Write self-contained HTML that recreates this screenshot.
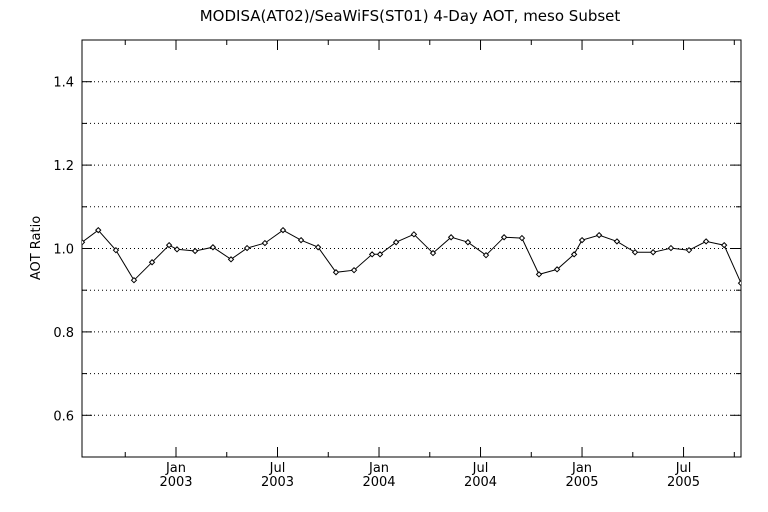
<!DOCTYPE html>
<html><head><meta charset="utf-8"><style>
html,body{margin:0;padding:0;background:#fff;}
svg{display:block;font-family:"DejaVu Sans","Liberation Sans",sans-serif;}
</style></head><body>
<svg id="chart" width="768" height="512" viewBox="0 0 768 512">
<defs><clipPath id="plotclip"><rect x="82" y="40" width="659" height="417"/></clipPath></defs>
<text x="410" y="21" font-size="15" text-anchor="middle" fill="#000">MODISA(AT02)/SeaWiFS(ST01) 4-Day AOT, meso Subset</text>
<text transform="translate(40,248) rotate(-90)" font-size="13" text-anchor="middle" fill="#000">AOT Ratio</text>
<g id="grid"></g>
<g id="axes"></g>
<g id="series" clip-path="url(#plotclip)"></g>
</svg>
<script>
const dates = [2002.537,2002.617,2002.704,2002.793,2002.882,2002.966,2003.005,2003.094,2003.182,2003.271,2003.350,2003.438,2003.527,2003.616,2003.700,2003.788,2003.877,2003.966,2004.005,2004.084,2004.172,2004.266,2004.355,2004.438,2004.527,2004.616,2004.704,2004.788,2004.877,2004.961,2005.000,2005.084,2005.172,2005.261,2005.350,2005.438,2005.527,2005.611,2005.700,2005.783];
const ratios = [1.015,1.044,0.996,0.924,0.967,1.008,0.998,0.994,1.003,0.974,1.001,1.013,1.044,1.020,1.003,0.943,0.948,0.986,0.986,1.015,1.034,0.989,1.027,1.015,0.984,1.027,1.025,0.938,0.950,0.986,1.020,1.032,1.017,0.991,0.991,1.001,0.996,1.017,1.008,0.917];
const yTickLabels = ["0.6","0.8","1.0","1.2","1.4"];
const xTickLabels = [["Jan","2003"],["Jul","2003"],["Jan","2004"],["Jul","2004"],["Jan","2005"],["Jul","2005"]];
const xTickDates = [2003.0,2003.5,2004.0,2004.5,2005.0,2005.5];

const L=82,R=741,T=40,B=457;
const X0=2002.537,X1=2005.783,Y0=0.5,Y1=1.5;
const sx=t=>L+(t-X0)/(X1-X0)*(R-L);
const sy=v=>B-(v-Y0)/(Y1-Y0)*(B-T);
const NS="http://www.w3.org/2000/svg";
function mk(tag,attrs,parent){const e=document.createElementNS(NS,tag);for(const k in attrs)e.setAttribute(k,attrs[k]);parent.appendChild(e);return e;}
const grid=document.getElementById('grid'),axes=document.getElementById('axes'),series=document.getElementById('series');

for(let i=1;i<10;i++){
  const v=Y0+i*0.1,y=sy(v);
  const g=mk('line',{x1:L,x2:R,y1:y,y2:y,stroke:'#000','stroke-width':1,'stroke-dasharray':'1 3'},grid);
  
  
}
const frame=mk('rect',{x:L,y:T,width:R-L,height:B-T,fill:'none',stroke:'#000','stroke-width':1},axes);


for(let i=0;i<=10;i++){
  const v=Y0+i*0.1,y=sy(v),major=(i%2==1),len=major?10:5;
  mk('line',{x1:L,x2:L+len,y1:y,y2:y,stroke:'#000'},axes);
  mk('line',{x1:R,x2:R-len,y1:y,y2:y,stroke:'#000'},axes);
}
yTickLabels.forEach(s=>{
  const t=mk('text',{x:L-8,y:sy(parseFloat(s))+5,'font-size':13,'text-anchor':'end',fill:'#000'},axes);
  t.textContent=s;
  
  
});
for(let q=2002.75;q<X1;q+=0.25){
  const x=sx(q),major=Math.abs((q*2)-Math.round(q*2))<1e-6,len=major?10:5;
  mk('line',{x1:x,x2:x,y1:B,y2:B-len,stroke:'#000'},axes);
  mk('line',{x1:x,x2:x,y1:T,y2:T+len,stroke:'#000'},axes);
}
xTickLabels.forEach((lab,i)=>{
  const x=sx(xTickDates[i]);
  const t=mk('text',{x:x,y:472,'font-size':13,'text-anchor':'middle',fill:'#000'},axes);
  t.textContent=lab[0];
  
  
  const t2=mk('text',{x:x,y:486,'font-size':13,'text-anchor':'middle',fill:'#000'},axes);
  t2.textContent=lab[1];
  
  
});
const pts=dates.map((d,i)=>sx(d).toFixed(1)+','+sy(ratios[i]).toFixed(1)).join(' ');
const line=mk('polyline',{points:pts,fill:'none',stroke:'#000','stroke-width':1},series);


dates.forEach((d,i)=>{
  const x=sx(d),y=sy(ratios[i]);
  const m=mk('polygon',{points:`${x},${y-2.5} ${x+2.5},${y} ${x},${y+2.5} ${x-2.5},${y}`,fill:'#fff',stroke:'#000','stroke-width':1},series);
  
  
});
</script>
</body></html>
